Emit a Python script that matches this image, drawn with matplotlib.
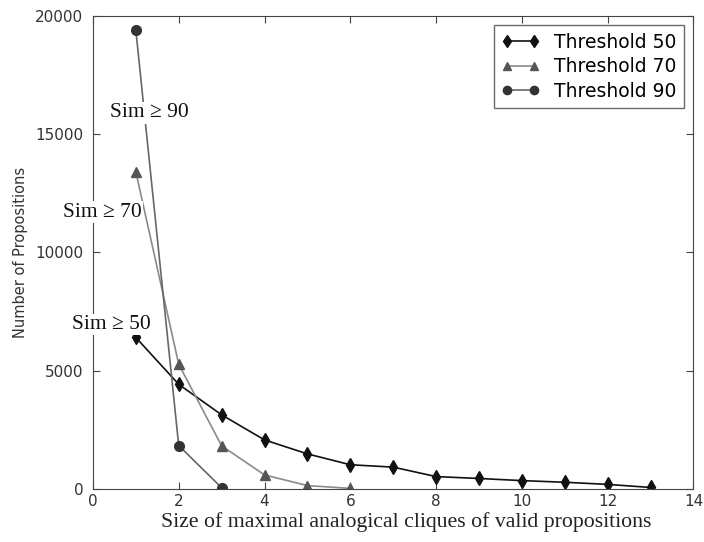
import matplotlib.pyplot as plt

# clique size on x
sizes_50 = [1, 2, 3, 4, 5, 6, 7, 8, 9, 10, 11, 12, 13]
counts_50 = [6400, 4420, 3130, 2070, 1480, 1020, 920, 520, 440, 350, 280, 190, 60]

sizes_70 = [1, 2, 3, 4, 5, 6]
counts_70 = [13400, 5270, 1820, 590, 140, 20]

sizes_90 = [1, 2, 3]
counts_90 = [19400, 1830, 50]

labels = ['Threshold 50', 'Threshold 70', 'Threshold 90']
notes = ['Sim \u2265 90', 'Sim \u2265 70', 'Sim \u2265 50']
note_pos = [(1.32, 15900), (0.23, 11700), (0.44, 6950)]

figure = plt.figure(figsize=(7.04, 5.42), dpi=100)
axes = figure.add_axes([0.132, 0.098, 0.853, 0.873])

axes.plot(sizes_50, counts_50, color='#111111', linewidth=1.2, marker='d',
          markersize=7, markerfacecolor='#111111', markeredgecolor='#111111',
          label=labels[0])
axes.plot(sizes_70, counts_70, color='#8a8a8a', linewidth=1.2, marker='^',
          markersize=6.5, markerfacecolor='#555555', markeredgecolor='#555555',
          label=labels[1])
axes.plot(sizes_90, counts_90, color='#666666', linewidth=1.2, marker='o',
          markersize=7, markerfacecolor='#333333', markeredgecolor='#333333',
          label=labels[2])

axes.set_xlim([0, 14])
axes.set_ylim([0, 20000])
axes.set_xticks(range(0, 15, 2))
axes.set_yticks(range(0, 20001, 5000))
axes.tick_params(direction='in', top=True, right=True, length=5,
                 labelsize=11, labelcolor='#333333', color='#444444')
axes.tick_params(axis='x', pad=4)
axes.tick_params(axis='y', pad=7)
for sp in axes.spines.values():
    sp.set_color('#444444')

axes.set_ylabel('Number of Propositions', fontsize=10.5, color='#333333',
                labelpad=5)
figure.text(0.577, 0.037, 'Size of maximal analogical cliques of valid propositions',
            family='Liberation Serif', fontsize=15.7, ha='center', va='center',
            color='#222222')

leg = axes.legend(loc='upper right', numpoints=2, fancybox=False,
                  fontsize=13.5, borderaxespad=0.5, handlelength=2.0,
                  labelspacing=0.3, edgecolor='#444444', markerscale=0.85)
leg.get_frame().set_linewidth(1.0)

for txt, (x, y) in zip(notes, note_pos):
    axes.text(x, y, txt, family='Liberation Serif', fontsize=15.5,
              ha='center', va='center', color='#111111', zorder=10,
              bbox=dict(facecolor='white', edgecolor='none', pad=1))

figure.savefig('out.png', dpi=100)
